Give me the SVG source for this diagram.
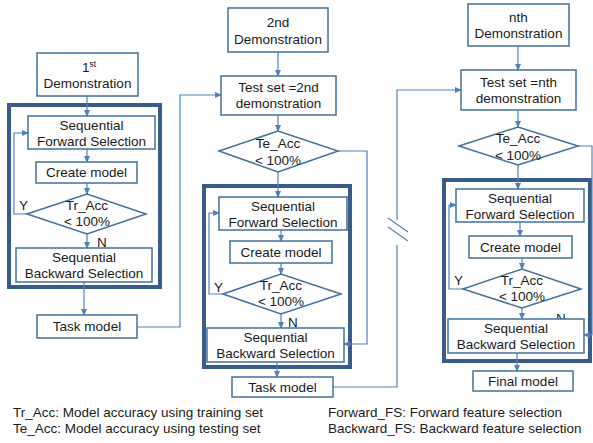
<svg xmlns="http://www.w3.org/2000/svg" width="593" height="443" viewBox="0 0 593 443">
<defs>
<marker id="ah" markerUnits="userSpaceOnUse" markerWidth="7" markerHeight="6" refX="6" refY="3" orient="auto">
<path d="M0,0 L7,3 L0,6 Z" fill="#4F81BD"/>
</marker>
<style>
.box{fill:#fff;stroke:#41719C;stroke-width:1.5}
.thick{fill:none;stroke:#385D8A;stroke-width:4}
.c{fill:none;stroke:#4F81BD;stroke-width:1.2}
.a{fill:none;stroke:#4F81BD;stroke-width:1.2;marker-end:url(#ah)}
text{font-family:"Liberation Sans",Arial,sans-serif;font-size:13.5px;fill:#1a1a1a}
.m{text-anchor:middle}
.leg{font-size:13.5px}
</style>
</defs>
<rect width="593" height="443" fill="#fff"/>

<g id="thick-boxes">
<rect class="thick" x="9" y="105" width="151" height="182"/>
<rect class="thick" x="204" y="186" width="146" height="181"/>
<rect class="thick" x="444" y="180" width="146" height="181"/>
</g>

<g id="connectors">
<!-- column 1 -->
<line class="a" x1="87" y1="96" x2="87" y2="116"/>
<line class="a" x1="87" y1="149" x2="87" y2="162"/>
<line class="a" x1="87" y1="183" x2="87" y2="194"/>
<line class="a" x1="87" y1="234" x2="87" y2="248"/>
<polyline class="a" points="27,214 14,214 14,133 28,133"/>
<line class="a" x1="84" y1="282" x2="84" y2="315"/>
<polyline class="a" points="137,327 180,327 180,95 221,95"/>
<!-- column 2 -->
<line class="a" x1="278" y1="52" x2="278" y2="76"/>
<line class="a" x1="278" y1="115" x2="278" y2="131"/>
<line class="a" x1="278" y1="172" x2="278" y2="197"/>
<polyline class="a" points="338,151 367,151 367,344 344,344"/>
<line class="a" x1="281" y1="230" x2="281" y2="241"/>
<line class="a" x1="281" y1="263" x2="281" y2="274"/>
<polyline class="a" points="223,294 209,294 209,213 219,213"/>
<line class="a" x1="281" y1="314" x2="281" y2="328"/>
<line class="a" x1="277" y1="362" x2="277" y2="377"/>
<polyline class="c" points="333,387 397,387 397,245"/>
<polyline class="a" points="397,220 397,90 461,90"/>
<line class="c" x1="388" y1="218" x2="408" y2="232"/>
<line class="c" x1="388" y1="227" x2="408" y2="241"/>
<!-- column 3 -->
<line class="a" x1="518" y1="46" x2="518" y2="70"/>
<line class="a" x1="518" y1="110" x2="518" y2="127"/>
<line class="a" x1="518" y1="165" x2="518" y2="189"/>
<polyline class="a" points="578,146 592,146 592,335 584,335"/>
<line class="a" x1="520" y1="222" x2="520" y2="236"/>
<line class="a" x1="522" y1="258" x2="522" y2="269"/>
<polyline class="a" points="463,289 449,289 449,205 456,205"/>
<line class="a" x1="522" y1="308" x2="522" y2="319"/>
<line class="a" x1="517" y1="353" x2="517" y2="371"/>
</g>

<g id="demo1"><rect class="box" x="37" y="53" width="101" height="43"/>
<text x="82" y="72">1<tspan font-size="8.5" dy="-5">st</tspan></text>
<text class="m" x="87.5" y="88">Demonstration</text></g>
<g id="sfs1"><rect class="box" x="28" y="116" width="127" height="33"/>
<text class="m" x="91.5" y="130">Sequential</text><text class="m" x="91.5" y="146">Forward Selection</text></g>
<g id="cm1"><rect class="box" x="36" y="162" width="101" height="21"/>
<text class="m" x="86.5" y="177">Create model</text></g>
<g id="tr1"><polygon class="box" points="27,214 87,194 146,214 87,234"/>
<text class="m" x="87" y="210">Tr_Acc</text><text class="m" x="87" y="226">&lt; 100%</text>
<text x="19" y="210">Y</text><text x="97" y="247">N</text></g>
<g id="sbs1"><rect class="box" x="16" y="248" width="136" height="34"/>
<text class="m" x="84" y="262">Sequential</text><text class="m" x="84" y="278">Backward Selection</text></g>
<g id="task1"><rect class="box" x="37" y="315" width="100" height="23"/>
<text class="m" x="87" y="331">Task model</text></g>

<g id="demo2"><rect class="box" x="228" y="8" width="100" height="44"/>
<text class="m" x="278" y="27">2nd</text><text class="m" x="278" y="44">Demonstration</text></g>
<g id="test2"><rect class="box" x="221" y="76" width="115" height="39"/>
<text class="m" x="278.5" y="92">Test set =2nd</text><text class="m" x="278.5" y="108">demonstration</text></g>
<g id="te2"><polygon class="box" points="219,151 278,131 338,151 278,172"/>
<text class="m" x="278" y="148">Te_Acc</text><text class="m" x="278" y="165">&lt; 100%</text></g>
<g id="sfs2"><rect class="box" x="219" y="197" width="128" height="33"/>
<text class="m" x="283" y="211">Sequential</text><text class="m" x="283" y="227">Forward Selection</text></g>
<g id="cm2"><rect class="box" x="230" y="241" width="102" height="22"/>
<text class="m" x="281" y="256.5">Create model</text></g>
<g id="tr2"><polygon class="box" points="223,294 281,274 341,294 281,314"/>
<text class="m" x="281" y="290">Tr_Acc</text><text class="m" x="281" y="306">&lt; 100%</text>
<text x="214" y="292">Y</text><text x="288" y="327">N</text></g>
<g id="sbs2"><rect class="box" x="207" y="328" width="137" height="34"/>
<text class="m" x="275.5" y="342">Sequential</text><text class="m" x="275.5" y="358">Backward Selection</text></g>
<g id="task2"><rect class="box" x="232" y="377" width="101" height="20"/>
<text class="m" x="282.5" y="391.5">Task model</text></g>

<g id="demo3"><rect class="box" x="468" y="4" width="101" height="42"/>
<text class="m" x="518.5" y="22">nth</text><text class="m" x="518.5" y="38">Demonstration</text></g>
<g id="test3"><rect class="box" x="461" y="70" width="115" height="40"/>
<text class="m" x="518.5" y="87">Test set =nth</text><text class="m" x="518.5" y="103">demonstration</text></g>
<g id="te3"><polygon class="box" points="459,146 518,127 578,146 518,165"/>
<text class="m" x="518" y="143">Te_Acc</text><text class="m" x="518" y="160">&lt; 100%</text></g>
<g id="sfs3"><rect class="box" x="456" y="189" width="128" height="33"/>
<text class="m" x="520" y="203">Sequential</text><text class="m" x="520" y="219">Forward Selection</text></g>
<g id="cm3"><rect class="box" x="469" y="236" width="103" height="22"/>
<text class="m" x="520.5" y="251.5">Create model</text></g>
<g id="tr3"><polygon class="box" points="463,289 522,269 581,289 522,308"/>
<text class="m" x="522" y="285">Tr_Acc</text><text class="m" x="522" y="301">&lt; 100%</text>
<text x="454" y="285">Y</text><text x="556" y="323">N</text></g>
<g id="sbs3"><rect class="box" x="448" y="319" width="136" height="34"/>
<text class="m" x="516" y="333">Sequential</text><text class="m" x="516" y="349">Backward Selection</text></g>
<g id="final"><rect class="box" x="473" y="371" width="100" height="20"/>
<text class="m" x="523" y="385.5">Final model</text></g>

<g id="legend">
<text class="leg" x="13" y="417">Tr_Acc: Model accuracy using training set</text>
<text class="leg" x="13" y="433">Te_Acc: Model accuracy using testing set</text>
<text class="leg" x="328" y="417">Forward_FS: Forward feature selection</text>
<text class="leg" x="328" y="433">Backward_FS: Backward feature selection</text>
</g>
</svg>
